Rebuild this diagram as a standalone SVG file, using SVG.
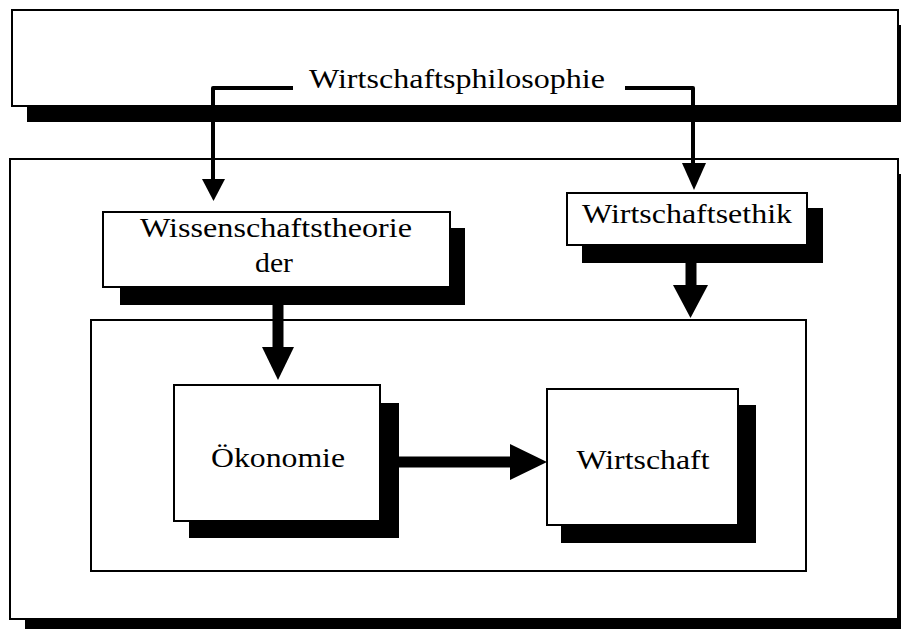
<svg xmlns="http://www.w3.org/2000/svg" width="901" height="629" viewBox="0 0 901 629">
<style>
.box{fill:#fff;stroke:#000;stroke-width:2}
.sh{fill:#000}
.t{font-family:"Liberation Serif","Times New Roman",serif;font-size:27px;fill:#000;text-anchor:middle}
.ln{fill:none;stroke:#000;stroke-width:4;stroke-linejoin:round}
.thk{fill:none;stroke:#000;stroke-width:11}
.hd{fill:#000}
</style>
<rect width="901" height="629" fill="#fff"/>
<g id="philosophie">
<rect class="sh" x="27" y="25" width="890" height="97"/>
<rect class="box" x="12" y="10" width="886" height="96"/>
<text class="t" x="457" y="88" textLength="296" lengthAdjust="spacingAndGlyphs">Wirtschaftsphilosophie</text>
</g>
<g id="rahmen">
<rect class="sh" x="25" y="174" width="890" height="460"/>
<rect class="box" x="10" y="159" width="888" height="460"/>
</g>
<g id="innen">
<rect class="box" x="91" y="320" width="715" height="251"/>
</g>
<g id="wissenschaftstheorie">
<rect class="sh" x="120" y="228" width="345" height="77"/>
<rect class="box" x="103" y="212" width="347" height="75"/>
<text class="t" x="276" y="237" textLength="272" lengthAdjust="spacingAndGlyphs">Wissenschaftstheorie</text>
<text class="t" x="274" y="272" textLength="38" lengthAdjust="spacingAndGlyphs">der</text>
</g>
<g id="wirtschaftsethik">
<rect class="sh" x="582" y="208" width="241" height="55"/>
<rect class="box" x="567" y="193" width="240" height="52"/>
<text class="t" x="687" y="223" textLength="210" lengthAdjust="spacingAndGlyphs">Wirtschaftsethik</text>
</g>
<g id="oekonomie">
<rect class="sh" x="189" y="403" width="210" height="135"/>
<rect class="box" x="174" y="385" width="206" height="136"/>
<text class="t" x="278" y="467" textLength="134" lengthAdjust="spacingAndGlyphs">Ökonomie</text>
</g>
<g id="wirtschaft">
<rect class="sh" x="561" y="405" width="195" height="138"/>
<rect class="box" x="547" y="389" width="191" height="136"/>
<text class="t" x="643" y="469" textLength="133" lengthAdjust="spacingAndGlyphs">Wirtschaft</text>
</g>
<g id="connectors">
<path class="ln" d="M293,88 H213 V182"/>
<polygon class="hd" points="202,179 225,179 213.5,201"/>
<path class="ln" d="M625,88 H693 V166"/>
<polygon class="hd" points="682,163 706,163 694,190"/>
<line class="thk" x1="278" y1="305" x2="278" y2="350"/>
<polygon class="hd" points="262,347 294,347 278,380"/>
<line class="thk" x1="691" y1="263" x2="691" y2="288"/>
<polygon class="hd" points="673,285 708,285 690.5,318"/>
<line class="thk" x1="399" y1="462" x2="512" y2="462"/>
<polygon class="hd" points="510,444 510,480 547,462"/>
</g>
</svg>
